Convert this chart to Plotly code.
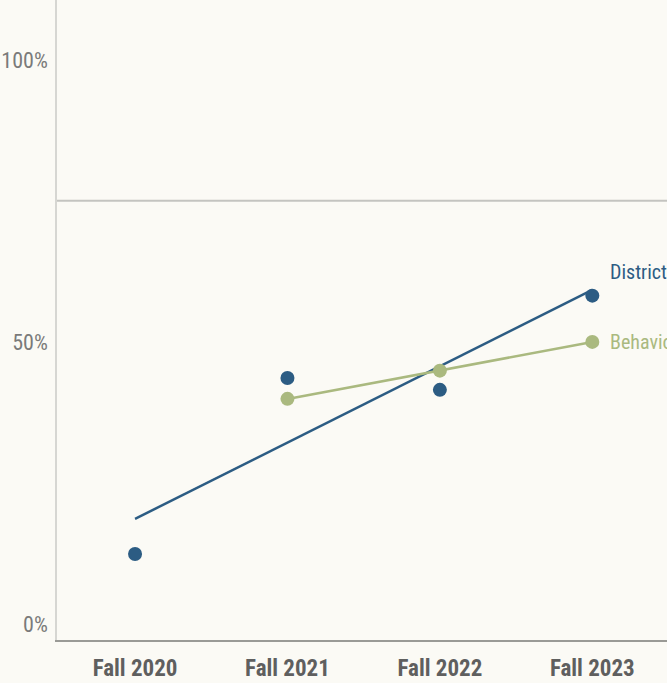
import numpy as np
import plotly.graph_objects as go

categories = ["Fall 2020", "Fall 2021", "Fall 2022", "Fall 2023"]
district = [12.4, 43.6, 41.5, 58.2]
behavioral = [None, 39.9, 44.9, 50.0]
reference_line = 75
y_ticks = [0, 50, 100]
y_tick_labels = ["0%", "50%", "100%"]
series_names = ["District", "Behavioral"]

BLUE = "#2c5c83"
GREEN = "#aab97f"
BG = "#fbfaf5"
FONT = "Liberation Sans Narrow, Roboto Condensed, Arial Narrow, sans-serif"

fig = go.Figure()

def trend(values):
    xs = [i for i, v in enumerate(values) if v is not None]
    ys = [v for v in values if v is not None]
    m, b = np.polyfit(xs, ys, 1)
    return [xs[0], xs[-1]], [m * xs[0] + b, m * xs[-1] + b]

for vals, color in [(district, BLUE), (behavioral, GREEN)]:
    tx, ty = trend(vals)
    fig.add_trace(go.Scatter(x=tx, y=ty, mode="lines",
                             line=dict(color=color, width=2.5),
                             hoverinfo="skip", showlegend=False))

for vals, color in [(district, BLUE), (behavioral, GREEN)]:
    xs = [i for i, v in enumerate(vals) if v is not None]
    ys = [v for v in vals if v is not None]
    fig.add_trace(go.Scatter(x=xs, y=ys, mode="markers",
                             marker=dict(color=color, size=14),
                             showlegend=False))

fig.add_shape(type="line", xref="paper", x0=0, x1=1, yref="y",
              y0=reference_line, y1=reference_line,
              line=dict(color="#c4c4c0", width=2), layer="below")

# end labels
for name, vals, color, dy in [(series_names[0], district, BLUE, -24),
                               (series_names[1], behavioral, GREEN, 0)]:
    fig.add_annotation(x=3, y=vals[-1], text=name, showarrow=False,
                       xanchor="left", yanchor="middle", xshift=16, yshift=-dy,
                       font=dict(family=FONT, size=20, color=color))

fig.update_layout(
    width=667, height=683,
    margin=dict(l=57, r=0, t=0, b=43),
    paper_bgcolor=BG, plot_bgcolor=BG,
    xaxis=dict(range=[-0.512, 3.49], tickvals=list(range(len(categories))),
               ticktext=categories, showgrid=False, zeroline=False,
               showline=True, linecolor="#9a9a96", linewidth=1.5,
               tickfont=dict(family=FONT, size=23, color="#5f5f5f", weight="bold"),
               ticklabelstandoff=7, automargin=False),
    yaxis=dict(range=[-2.84, 110.6], tickvals=y_ticks, ticktext=y_tick_labels,
               showgrid=False, zeroline=False,
               showline=True, linecolor="#d6d6d2", linewidth=1.5,
               tickfont=dict(family=FONT, size=22, color="#7a7a7a"),
               ticklabelstandoff=3, automargin=False),
)

fig.write_html("out.html", config={"displayModeBar": False},
               post_script="document.body.style.margin='0';"
                           "document.body.style.background='" + BG + "';")
